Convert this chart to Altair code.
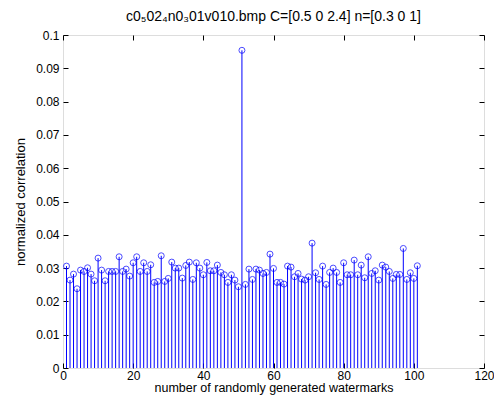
import altair as alt
import pandas as pd

# normalized correlation for each of the 101 randomly generated watermarks
idx = list(range(1, 102))
vals = [
    0.0306, 0.0264, 0.0282, 0.0238, 0.0294, 0.0290, 0.0301, 0.0282, 0.0262, 0.0330,
    0.0294, 0.0262, 0.0290, 0.0290, 0.0290, 0.0334, 0.0290, 0.0297, 0.0276, 0.0316,
    0.0334, 0.0290, 0.0316, 0.0290, 0.0310, 0.0257, 0.0260, 0.0337, 0.0260, 0.0269,
    0.0318, 0.0300, 0.0300, 0.0270, 0.0308, 0.0318, 0.0266, 0.0316, 0.0300, 0.0280,
    0.0317, 0.0292, 0.0292, 0.0309, 0.0287, 0.0280, 0.0257, 0.0280, 0.0264, 0.0244,
    0.0954, 0.0251, 0.0297, 0.0266, 0.0297, 0.0294, 0.0284, 0.0287, 0.0342, 0.0299,
    0.0257, 0.0257, 0.0252, 0.0306, 0.0303, 0.0274, 0.0284, 0.0267, 0.0264, 0.0274,
    0.0375, 0.0286, 0.0266, 0.0306, 0.0251, 0.0287, 0.0300, 0.0287, 0.0257, 0.0316,
    0.0280, 0.0280, 0.0324, 0.0280, 0.0309, 0.0271, 0.0334, 0.0284, 0.0292, 0.0264,
    0.0309, 0.0303, 0.0290, 0.0269, 0.0281, 0.0281, 0.0359, 0.0266, 0.0286, 0.0269,
    0.0307,
]
x_ticks = [0, 20, 40, 60, 80, 100, 120]
y_ticks = [0, 0.01, 0.02, 0.03, 0.04, 0.05, 0.06, 0.07, 0.08, 0.09, 0.1]

title_text = "c0\u208502\u2084n0\u208301v010.bmp C=[0.5 0 2.4] n=[0.3 0 1]"
x_title = "number of randomly generated watermarks"
y_title = "normalized correlation"

df = pd.DataFrame({"i": idx, "v": vals, "zero": [0.0] * len(idx)})

FONT = "Liberation Sans"
xs = alt.Scale(domain=[0, 120], nice=False, zero=False)
ys = alt.Scale(domain=[0, 0.1], nice=False, zero=False)

x_bottom = alt.Axis(orient="bottom", values=x_ticks, tickSize=5, offset=-5, domain=False,
                    grid=False, tickColor="black", labelFont=FONT, labelFontSize=12,
                    labelColor="black", labelPadding=2, title=x_title, titleFont=FONT,
                    titleFontSize=12.5, titleColor="black", titleFontWeight="normal",
                    titlePadding=0.5, labelFlush=False, labelOverlap=False)
y_left = alt.Axis(orient="left", values=y_ticks, tickSize=5, offset=-5, domain=False,
                  grid=False, tickColor="black", labelFont=FONT, labelFontSize=12,
                  labelColor="black", labelPadding=4, title=y_title, titleFont=FONT,
                  titleFontSize=13, titleColor="black", titleFontWeight="normal",
                  titlePadding=8, labelFlush=False, labelOverlap=False, format="~g")
x_top = alt.Axis(orient="top", values=x_ticks, tickSize=5, offset=-5, domain=False,
                 grid=False, tickColor="black", labels=False, title=None)
y_right = alt.Axis(orient="right", values=y_ticks, tickSize=5, offset=-5, domain=False,
                   grid=False, tickColor="black", labels=False, title=None)

stems = alt.Chart(df).mark_rule(color="#0000ff", strokeWidth=1).encode(
    x=alt.X("i:Q", scale=xs, axis=x_bottom),
    y=alt.Y("zero:Q", scale=ys, axis=y_left),
    y2="v:Q",
)
circles = alt.Chart(df).mark_point(shape="circle", filled=False, color="#0000ff",
                                   size=36, strokeWidth=1).encode(
    x=alt.X("i:Q", scale=xs, axis=x_top),
    y=alt.Y("v:Q", scale=ys, axis=y_right),
)

chart = alt.layer(stems, circles).resolve_axis(x="independent", y="independent").properties(
    width=421,
    height=333,
    title=alt.TitleParams(title_text, font=FONT, fontSize=14, fontWeight="normal",
                          color="black", offset=5),
    autosize=alt.AutoSizeParams(type="none"),
    padding={"left": 55, "top": 27, "right": 10, "bottom": 27},
).configure_view(stroke="black", strokeWidth=1).configure(background="white")

chart.save("out.html", embed_options={"renderer": "svg", "actions": False})
